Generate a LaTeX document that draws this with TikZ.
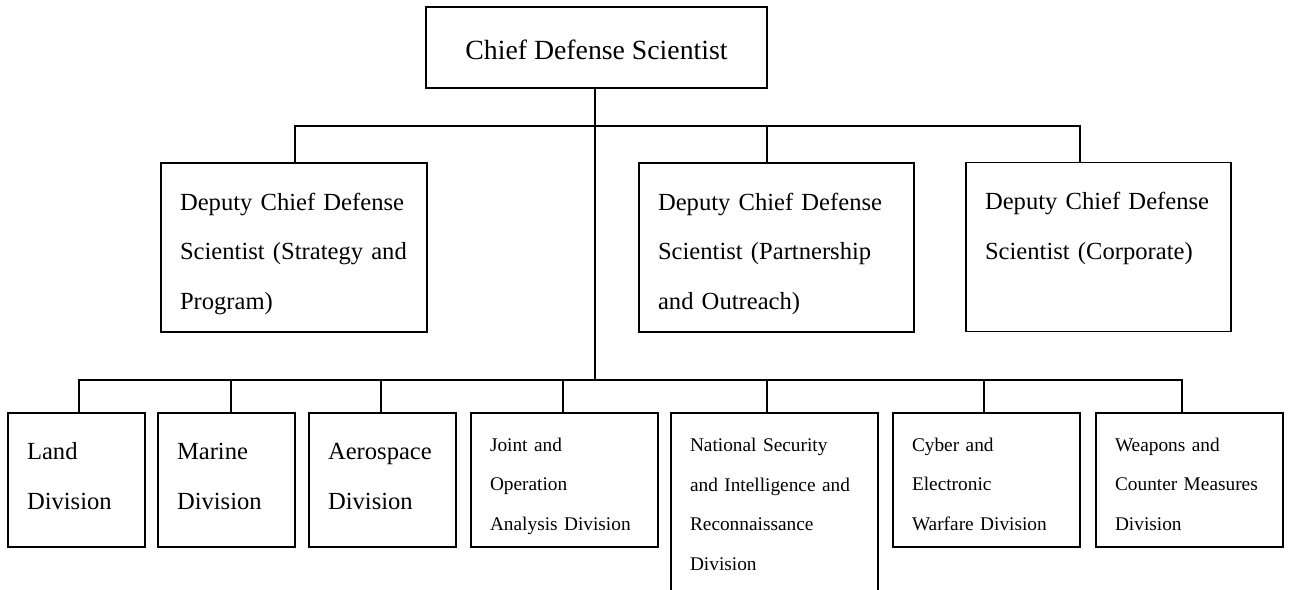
\documentclass[tikz,border=0pt]{standalone}
\usepackage{fontspec}
\setmainfont{Liberation Serif}
\usepackage{tikz}

\begin{document}
\begin{tikzpicture}[x=0.02cm,y=-0.02cm]
							\tikzstyle{chiefbox} = [rectangle,draw=black,line width=0.7pt,inner sep=0pt,minimum width=6.82cm,text height=1.06cm,text depth=0.56cm,font=\fontsize{15.8}{19}\selectfont]
							\tikzstyle{deputy} = [rectangle,draw=black,line width=0.7pt,inner xsep=0.38cm,inner ysep=0pt,align=left,text height=0.94cm,text depth=2.44cm,font=\fontsize{14}{28.45}\selectfont]
							\tikzstyle{division} = [rectangle,draw=black,line width=0.7pt,inner xsep=0.38cm,inner ysep=0pt,align=left,text height=0.92cm,text depth=1.76cm,font=\fontsize{14}{29}\selectfont]
							\tikzstyle{division2} = [rectangle,draw=black,line width=0.7pt,inner xsep=0.38cm,inner ysep=0pt,align=left,text height=0.76cm,text depth=1.92cm,font=\fontsize{11}{22.76}\selectfont]
							\tikzstyle{edge} = [-,draw=black,line width=0.7pt]
							\useasboundingbox (0,0) rectangle (1290,590);
							\fill[white] (0,0) rectangle (1290,590);
							\clip (0,0) rectangle (1290,590);
							\node[chiefbox] (chief) at (596.5,47.5) {Chief Defense Scientist};
							\node[deputy,text width=4.56cm] (dep1) at (294,247.5) {Deputy Chief Defense\\Scientist (Strategy and\\Program)};
							\node[deputy,text width=4.74cm] (dep2) at (776.5,247.5) {Deputy Chief Defense\\Scientist (Partnership\\and Outreach)};
							\node[deputy,text width=4.54cm] (dep3) at (1098.5,247) {Deputy Chief Defense\\Scientist (Corporate)};
							\node[division,text width=1.98cm] (land) at (76.5,480) {Land\\Division};
							\node[division,text width=1.98cm] (marine) at (226.5,480) {Marine\\Division};
							\node[division,text width=2.18cm] (aero) at (382.5,480) {Aerospace\\Division};
							\node[division2,text width=2.98cm] (joint) at (564.5,480) {Joint and\\Operation\\Analysis Division};
							\node[division2,text width=3.38cm,text depth=3.8cm] (natsec) at (774.5,527) {National Security\\and Intelligence and\\Reconnaissance\\Division};
							\node[division2,text width=2.98cm] (cyber) at (986.5,480) {Cyber and\\Electronic\\Warfare Division};
							\node[division2,text width=2.98cm] (weapons) at (1189.5,480) {Weapons and\\Counter Measures\\Division};
							
							\coordinate (ub) at (595,126);
							\coordinate (lb) at (595,380);
							\coordinate (k1) at (295,126);
							\coordinate (k2) at (767,126);
							\coordinate (k3) at (1080,126);
							\coordinate (m1) at (79,380);
							\coordinate (m2) at (231,380);
							\coordinate (m3) at (381,380);
							\coordinate (m4) at (563,380);
							\coordinate (m5) at (767,380);
							\coordinate (m6) at (984,380);
							\coordinate (m7) at (1182,380);
							
							\draw[edge] (chief.south -| lb)--(lb);
							\draw[edge] (k1 |- dep1.north)--(k1)--(k3)--(k3 |- dep3.north);
							\draw[edge] (k2)--(k2 |- dep2.north);
							\draw[edge] (m1 |- land.north)--(m1)--(m7)--(m7 |- weapons.north);
							\draw[edge] (m2)--(m2 |- marine.north);
							\draw[edge] (m3)--(m3 |- aero.north);
							\draw[edge] (m4)--(m4 |- joint.north);
							\draw[edge] (m5)--(m5 |- natsec.north);
							\draw[edge] (m6)--(m6 |- cyber.north);
\end{tikzpicture}
\end{document}
